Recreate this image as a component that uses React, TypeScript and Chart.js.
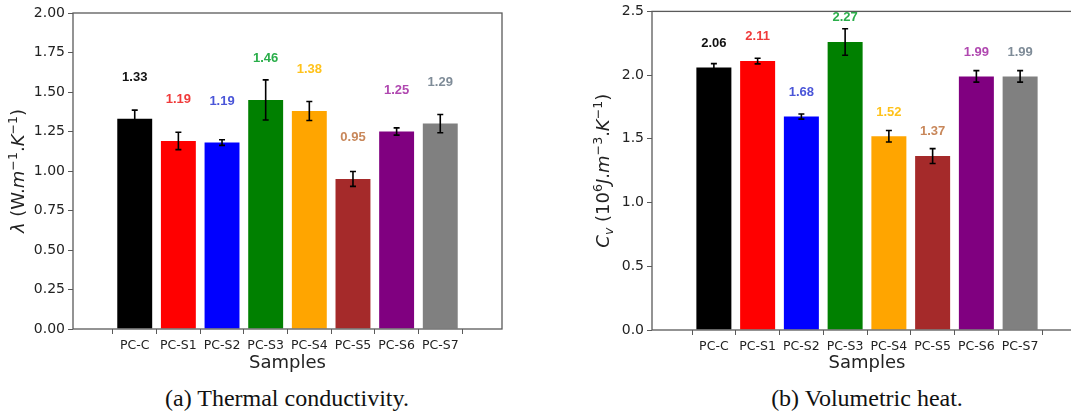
import React, { useEffect, useRef } from 'react';
import { Chart, registerables } from 'chart.js';

Chart.register(...registerables);

// ---------- data ----------
const categories = ['PC-C', 'PC-S1', 'PC-S2', 'PC-S3', 'PC-S4', 'PC-S5', 'PC-S6', 'PC-S7'];
const barColors = ['#000000', '#ff0000', '#0000ff', '#008000', '#ffa500', '#a52a2a', '#800080', '#808080'];
const valueLabelColors = ['#111111', '#f03a3a', '#4a55d8', '#2aae4a', '#ffc21a', '#c8875a', '#b048b0', '#7f8c98'];

const conductivity = [1.33, 1.19, 1.18, 1.45, 1.38, 0.95, 1.25, 1.30];
const conductivityErr = [0.055, 0.055, 0.018, 0.127, 0.06, 0.047, 0.023, 0.058];
const conductivityLabels = ['1.33', '1.19', '1.19', '1.46', '1.38', '0.95', '1.25', '1.29'];

const volumetric = [2.06, 2.11, 1.675, 2.26, 1.52, 1.365, 1.99, 1.99];
const volumetricErr = [0.03, 0.022, 0.02, 0.104, 0.045, 0.058, 0.045, 0.045];
const volumetricLabels = ['2.06', '2.11', '1.68', '2.27', '1.52', '1.37', '1.99', '1.99'];

const conductivityTicks = { max: 2.0, step: 0.25, decimals: 2 };
const volumetricTicks = { max: 2.5, step: 0.5, decimals: 1 };

type Seg = { t: string; it?: boolean; sup?: boolean; sub?: boolean };

const yTitleA: Seg[] = [
  { t: 'λ', it: true }, { t: ' (W.' }, { t: 'm', it: true }, { t: '−1', sup: true },
  { t: '.' }, { t: 'K', it: true }, { t: '−1', sup: true }, { t: ')' },
];
const yTitleB: Seg[] = [
  { t: 'C', it: true }, { t: 'v', it: true, sub: true }, { t: ' (10' }, { t: '6', sup: true },
  { t: 'J', it: true }, { t: '.' }, { t: 'm', it: true }, { t: '−3', sup: true },
  { t: '.' }, { t: 'K', it: true }, { t: '−1', sup: true }, { t: ')' },
];

const AXIS_COLOR = '#5a5a5a';
const TEXT_COLOR = '#222222';

function drawRich(ctx: CanvasRenderingContext2D, segs: Seg[], cx: number, cy: number, size: number, rotate: boolean) {
  ctx.save();
  ctx.translate(cx, cy);
  if (rotate) ctx.rotate(-Math.PI / 2);
  const fontFor = (s: Seg) => {
    const sz = s.sup || s.sub ? size * 0.7 : size;
    return `${s.it ? 'italic ' : ''}${sz}px "DejaVu Sans"`;
  };
  let total = 0;
  const widths = segs.map((s) => {
    ctx.font = fontFor(s);
    const w = ctx.measureText(s.t).width;
    total += w;
    return w;
  });
  let x = -total / 2;
  ctx.fillStyle = TEXT_COLOR;
  ctx.textBaseline = 'alphabetic';
  ctx.textAlign = 'left';
  const base = size * 0.36;
  segs.forEach((s, i) => {
    ctx.font = fontFor(s);
    let dy = base;
    if (s.sup) dy = base - size * 0.42;
    if (s.sub) dy = base + size * 0.2;
    ctx.fillText(s.t, x, dy);
    x += widths[i];
  });
  ctx.restore();
}

type PanelCfg = {
  values: number[];
  errors: number[];
  labels: string[];
  ticks: { max: number; step: number; decimals: number };
  labelOffset: number;
  area: { left: number; top: number; right: number; bottom: number };
  width: number;
  height: number;
  yTitle: Seg[];
  yTitleX: number;
};

function buildChart(canvas: HTMLCanvasElement, cfg: PanelCfg) {
  const overlay = {
    id: 'overlay',
    afterDatasetsDraw(chart: any) {
      const ctx: CanvasRenderingContext2D = chart.ctx;
      const ys = chart.scales.y;
      const meta = chart.getDatasetMeta(0);
      const ca = chart.chartArea;
      // error bars
      ctx.save();
      ctx.strokeStyle = '#000';
      ctx.lineWidth = 1.6;
      meta.data.forEach((el: any, i: number) => {
        const x = el.x;
        const y1 = ys.getPixelForValue(cfg.values[i] + cfg.errors[i]);
        const y2 = ys.getPixelForValue(cfg.values[i] - cfg.errors[i]);
        ctx.beginPath();
        ctx.moveTo(x, y1);
        ctx.lineTo(x, y2);
        ctx.moveTo(x - 3, y1);
        ctx.lineTo(x + 3, y1);
        ctx.moveTo(x - 3, y2);
        ctx.lineTo(x + 3, y2);
        ctx.stroke();
      });
      ctx.restore();
      // value labels
      ctx.save();
      ctx.font = 'bold 13px "Liberation Sans"';
      ctx.textAlign = 'center';
      ctx.textBaseline = 'middle';
      meta.data.forEach((el: any, i: number) => {
        ctx.fillStyle = valueLabelColors[i];
        ctx.fillText(cfg.labels[i], el.x, ys.getPixelForValue(cfg.values[i] + cfg.labelOffset));
      });
      ctx.restore();
      // frame
      ctx.save();
      ctx.strokeStyle = AXIS_COLOR;
      ctx.lineWidth = 1.3;
      ctx.strokeRect(ca.left, ca.top, ca.right - ca.left, ca.bottom - ca.top);
      ctx.restore();
      // axis titles
      drawRich(ctx, cfg.yTitle, cfg.yTitleX, (ca.top + ca.bottom) / 2, 18, true);
      ctx.save();
      ctx.font = '18px "DejaVu Sans"';
      ctx.fillStyle = TEXT_COLOR;
      ctx.textAlign = 'center';
      ctx.textBaseline = 'middle';
      ctx.fillText('Samples', (ca.left + ca.right) / 2, 363);
      ctx.restore();
    },
  };

  return new Chart(canvas, {
    type: 'bar',
    data: {
      datasets: [
        {
          data: cfg.values.map((v, i) => ({ x: i, y: v })),
          backgroundColor: barColors,
          borderWidth: 0,
          barPercentage: 0.8,
          categoryPercentage: 1.0,
        },
      ],
    },
    options: {
      responsive: false,
      animation: false,
      devicePixelRatio: 1,
      layout: {
        padding: {
          left: 0,
          top: cfg.area.top,
          right: cfg.width - cfg.area.right,
          bottom: 0,
        },
      },
      plugins: { legend: { display: false }, tooltip: { enabled: false }, title: { display: false } },
      scales: {
        x: {
          type: 'linear',
          min: -0.8,
          max: categories.length - 0.2,
          afterBuildTicks: (scale: any) => {
            scale.ticks = categories.map((_, i) => ({ value: i }));
          },
          afterFit: (scale: any) => {
            scale.height = cfg.height - cfg.area.bottom;
          },
          ticks: {
            autoSkip: false,
            maxRotation: 0,
            padding: 4,
            color: TEXT_COLOR,
            font: { family: 'DejaVu Sans', size: 12.5 },
            callback: (v: any) => categories[Math.round(v)] ?? '',
          },
          grid: { display: true, drawOnChartArea: false, drawTicks: true, tickLength: 5, color: AXIS_COLOR, lineWidth: 1 },
          border: { display: false },
        },
        y: {
          type: 'linear',
          min: 0,
          max: cfg.ticks.max,
          afterFit: (scale: any) => {
            scale.width = cfg.area.left;
          },
          ticks: {
            stepSize: cfg.ticks.step,
            padding: 3,
            color: TEXT_COLOR,
            font: { family: 'DejaVu Sans', size: 14 },
            callback: (v: any) => Number(v).toFixed(cfg.ticks.decimals),
          },
          grid: { display: true, drawOnChartArea: false, drawTicks: true, tickLength: 5, color: AXIS_COLOR, lineWidth: 1 },
          border: { display: false },
        },
      },
    } as any,
    plugins: [overlay],
  });
}

const panelA: PanelCfg = {
  values: conductivity,
  errors: conductivityErr,
  labels: conductivityLabels,
  ticks: conductivityTicks,
  labelOffset: 0.26,
  area: { left: 73, top: 13, right: 502, bottom: 329 },
  width: 540,
  height: 380,
  yTitle: yTitleA,
  yTitleX: 18,
};

const panelB: PanelCfg = {
  values: volumetric,
  errors: volumetricErr,
  labels: volumetricLabels,
  ticks: volumetricTicks,
  labelOffset: 0.19,
  area: { left: 112, top: 11, right: 542, bottom: 330 },
  width: 560,
  height: 380,
  yTitle: yTitleB,
  yTitleX: 63,
};

function Panel({ cfg, left }: { cfg: PanelCfg; left: number }) {
  const ref = useRef<HTMLCanvasElement | null>(null);
  useEffect(() => {
    if (!ref.current) return;
    const chart = buildChart(ref.current, cfg);
    return () => chart.destroy();
  }, [cfg]);
  return (
    <canvas
      ref={ref}
      width={cfg.width}
      height={cfg.height}
      style={{ position: 'absolute', left, top: 0, width: cfg.width, height: cfg.height, display: 'block' }}
    />
  );
}

const captionStyle: React.CSSProperties = {
  position: 'absolute',
  top: 384,
  width: 400,
  textAlign: 'center',
  fontFamily: '"Liberation Serif", serif',
  fontSize: 24,
  lineHeight: '28px',
  color: '#111',
  whiteSpace: 'nowrap',
};

export default function App() {
  return (
    <div
      style={{
        position: 'fixed',
        left: 0,
        top: 0,
        width: 1071,
        height: 415,
        overflow: 'hidden',
        background: '#fff',
      }}
    >
      <Panel cfg={panelA} left={0} />
      <Panel cfg={panelB} left={540} />
      <div style={{ ...captionStyle, left: 287 - 200 }}>(a) Thermal conductivity.</div>
      <div style={{ ...captionStyle, left: 867 - 200 }}>(b) Volumetric heat.</div>
    </div>
  );
}
